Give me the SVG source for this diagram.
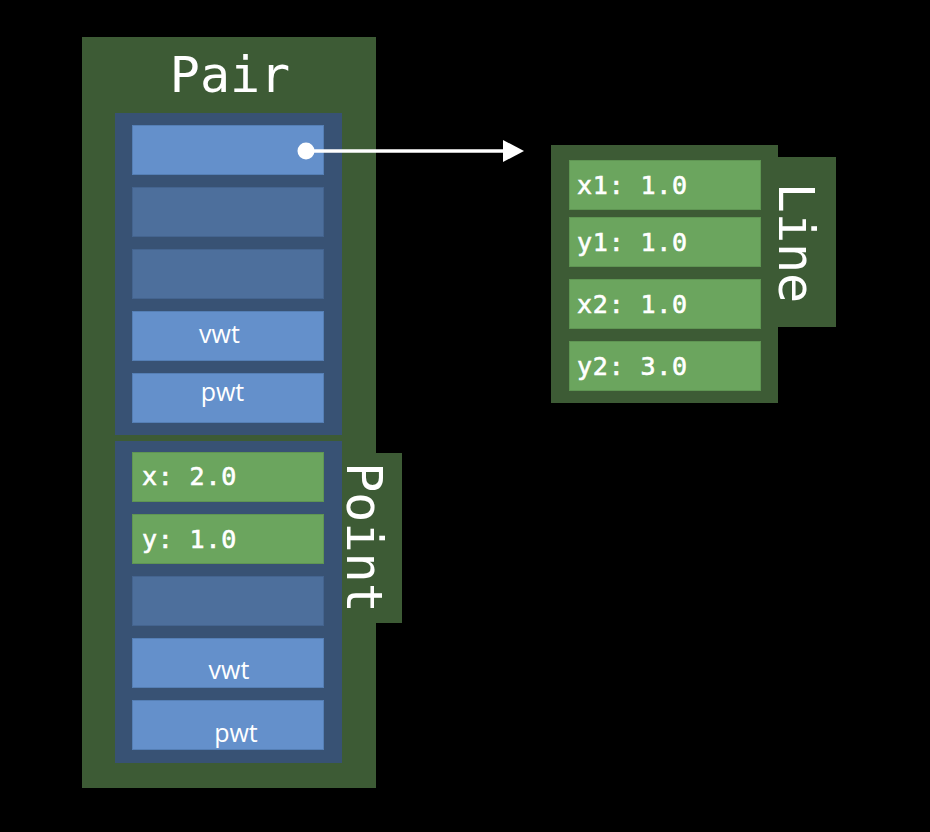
<svg xmlns="http://www.w3.org/2000/svg" width="930" height="832" viewBox="0 0 930 832">
<defs>
<style>
.frame{fill:#3d5b35}
.cont{fill:#385274}
.cell{fill:#6490cb;stroke:#557fb5;stroke-width:1}
.cellm{fill:#4d6f9c;stroke:#44648f;stroke-width:1}
.field{fill:#6ba55e;stroke:#5f9553;stroke-width:1}
.title{font-family:"DejaVu Sans Mono","Liberation Mono",monospace;font-size:50px;fill:#ffffff}
.ftxt{font-family:"DejaVu Sans Mono","Liberation Mono",monospace;font-size:25px;letter-spacing:0.8px;fill:#ffffff;stroke:#ffffff;stroke-width:0.6}
.wtxt{font-family:"Open Sans","Noto Sans",sans-serif;font-size:25px;fill:#ffffff;text-anchor:middle}
</style>
<marker id="head" viewBox="0 0 21 22" refX="0" refY="11" markerWidth="21" markerHeight="22" markerUnits="userSpaceOnUse" orient="auto">
<polygon points="0,0 21,11 0,22" fill="#ffffff"/>
</marker>
</defs>
<rect x="0" y="0" width="930" height="832" fill="#000000"/>

<g id="pair">
<rect class="frame" x="82" y="37" width="294" height="751"/>
<text class="title" x="230" y="92" text-anchor="middle">Pair</text>
<g id="pair-upper">
<rect class="cont" x="115" y="113" width="227" height="322"/>
<rect class="cell" x="132.5" y="125.5" width="191" height="49"/>
<rect class="cellm" x="132.5" y="187.5" width="191" height="49"/>
<rect class="cellm" x="132.5" y="249.5" width="191" height="49"/>
<rect class="cell" x="132.5" y="311.5" width="191" height="49"/>
<text class="wtxt" x="219.5" y="343">vwt</text>
<rect class="cell" x="132.5" y="373.5" width="191" height="49"/>
<text class="wtxt" x="222.5" y="401">pwt</text>
</g>
</g>

<g id="point">
<rect class="frame" x="342" y="453" width="60" height="170"/>
<rect class="cont" x="115" y="441" width="227" height="322"/>
<rect class="field" x="132.5" y="452.5" width="191" height="49"/>
<text class="ftxt" x="142" y="485">x: 2.0</text>
<rect class="field" x="132.5" y="514.5" width="191" height="49"/>
<text class="ftxt" x="142" y="548">y: 1.0</text>
<rect class="cellm" x="132.5" y="576.5" width="191" height="49"/>
<rect class="cell" x="132.5" y="638.5" width="191" height="49"/>
<text class="wtxt" x="229" y="679">vwt</text>
<rect class="cell" x="132.5" y="700.5" width="191" height="49"/>
<text class="wtxt" x="236" y="742">pwt</text>
<text class="title" text-anchor="middle" transform="translate(347,537.5) rotate(90)">Point</text>
</g>

<g id="line">
<rect class="frame" x="551" y="145" width="227" height="258"/>
<rect class="frame" x="777" y="157" width="59" height="170"/>
<rect class="field" x="569.5" y="160.5" width="191" height="49"/>
<text class="ftxt" x="577" y="193.5">x1: 1.0</text>
<rect class="field" x="569.5" y="217.5" width="191" height="49"/>
<text class="ftxt" x="577" y="250.5">y1: 1.0</text>
<rect class="field" x="569.5" y="279.5" width="191" height="49"/>
<text class="ftxt" x="577" y="312.5">x2: 1.0</text>
<rect class="field" x="569.5" y="341.5" width="191" height="49"/>
<text class="ftxt" x="577" y="374.5">y2: 3.0</text>
<text class="title" text-anchor="middle" transform="translate(779,243) rotate(90)">Line</text>
</g>

<g id="connectors">
<circle cx="306" cy="151" r="8.5" fill="#ffffff"/>
<line x1="306" y1="151" x2="503" y2="151" stroke="#ffffff" stroke-width="3.5" marker-end="url(#head)"/>
</g>
</svg>
